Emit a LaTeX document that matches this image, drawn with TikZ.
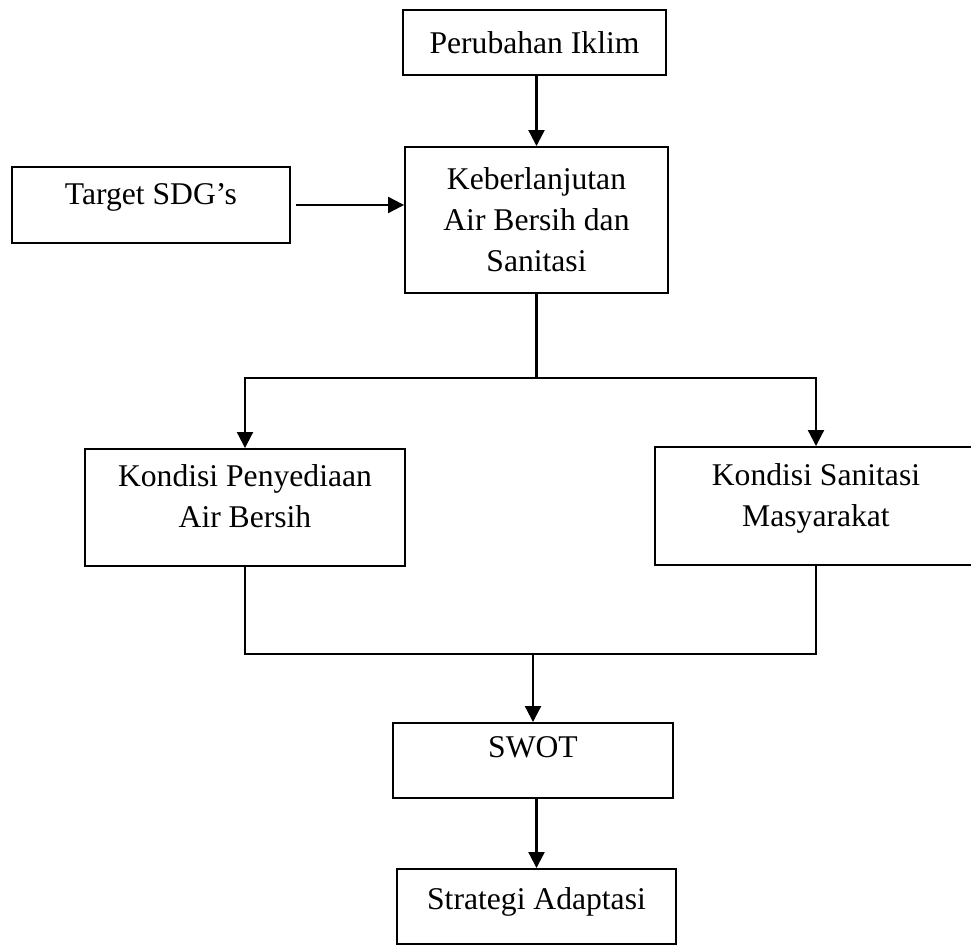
\documentclass[tikz,border=0pt]{standalone}
\usepackage{fontspec}
\setmainfont{Liberation Serif}
\usetikzlibrary{arrows.meta}
\tikzset{kotak/.style={draw, line width=1.1pt, align=center, inner sep=0pt,
		font=\fontsize{18}{23.3}\selectfont},
	garis/.style={line width=1.2pt},
	panah/.style={garis, -{Triangle[width=0.32cm,length=0.32cm]}}}

\begin{document}
\begin{tikzpicture}[x=0.02cm, y=-0.02cm]
		\useasboundingbox (0,0) rectangle (971,945);
		\node[kotak, minimum width=5.26cm, minimum height=1.3cm] (iklim) at (534.5,42.5) {Perubahan Iklim};
		\node[kotak, minimum width=5.26cm, minimum height=2.92cm] (lanjut) at (536.5,220) {Keberlanjutan\\Air Bersih dan\\Sanitasi};
		\node[kotak, minimum width=5.56cm, minimum height=1.52cm, text depth=0.45cm] (sdg) at (151,205) {Target SDG’s};
		\node[kotak, minimum width=6.4cm, minimum height=2.34cm, text depth=0.45cm] (airbersih) at (245,507.5) {Kondisi Penyediaan\\Air Bersih};
		\node[kotak, minimum width=6.44cm, minimum height=2.36cm, text depth=0.45cm] (sanitasi) at (816,506) {Kondisi Sanitasi\\Masyarakat};
		\node[kotak, minimum width=5.6cm, minimum height=1.5cm, text depth=0.55cm] (swot) at (533,760.5) {SWOT};
		\node[kotak, minimum width=5.58cm, minimum height=1.5cm, text depth=0.3cm] (strategi) at (536.5,906.5) {Strategi Adaptasi};
		
		\coordinate (cabang) at (536.5,378);
		\coordinate (gabung) at (533,654);
		
		\draw[panah] (lanjut.north |- iklim.south) -- (lanjut.north);
		\draw[panah] ([xshift=0.1cm]sdg.east) -- (sdg.east -| lanjut.west);
		\draw[garis] (lanjut.south) -- (cabang);
		\draw[panah] (cabang) -| (airbersih.north);
		\draw[panah] (cabang) -| (sanitasi.north);
		\draw[garis] (airbersih.south) |- (gabung) -| (sanitasi.south);
		\draw[panah] (gabung) -- (swot.north);
		\draw[panah] (strategi.north |- swot.south) -- (strategi.north);
		\end{tikzpicture}
\end{document}
